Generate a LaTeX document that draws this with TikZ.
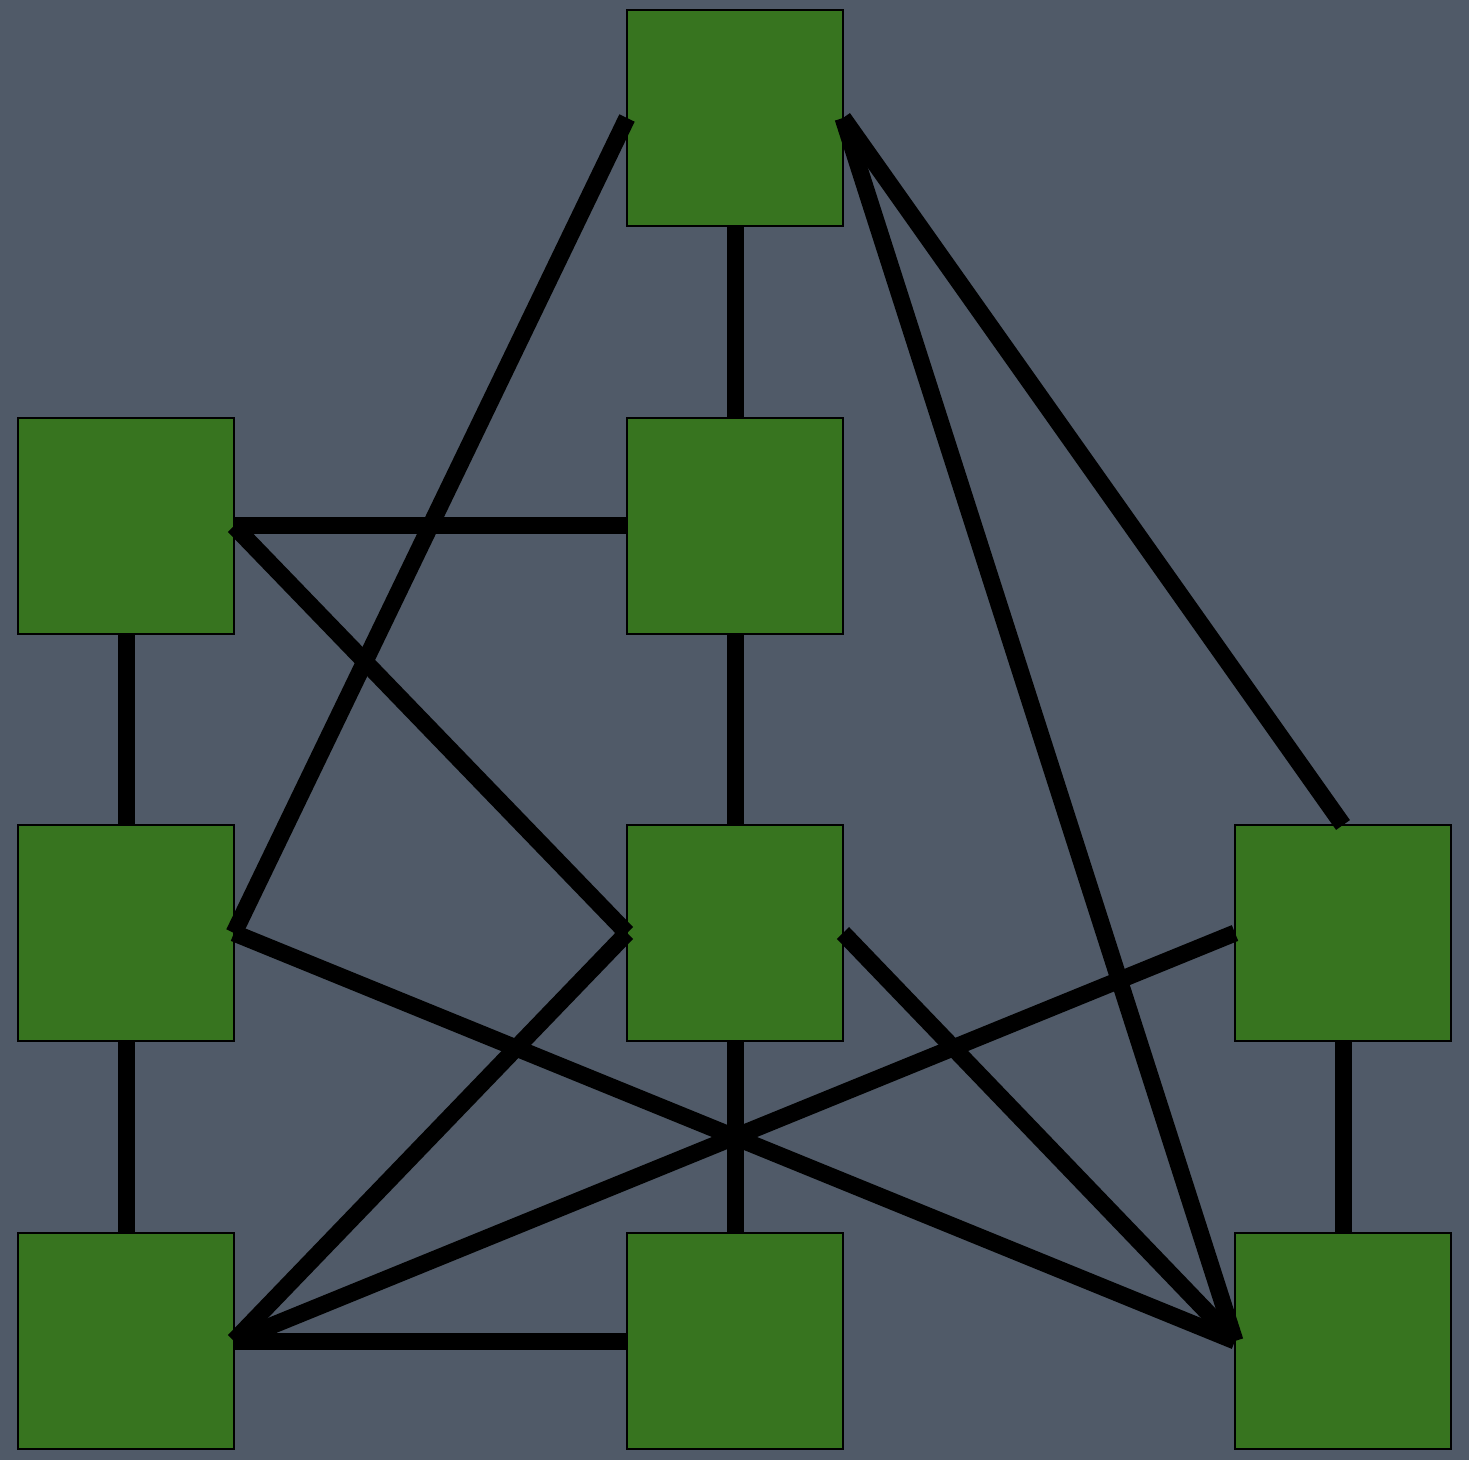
\documentclass[tikz,border=0pt]{standalone}
\definecolor{bg}{HTML}{505A68}
\definecolor{box}{HTML}{37741F}
\begin{document}
\begin{tikzpicture}[x=0.5pt,y=-0.5pt,
  sq/.style={draw=black,line width=0.8pt,fill=box,minimum width=108pt,minimum height=108pt,inner sep=0pt,outer sep=0pt},
  edge/.style={line width=8.5pt,black}]
\fill[bg] (0,0) rectangle (1469,1460);
\useasboundingbox (0,0) rectangle (1469,1460);
\node[sq] (t)  at (735,118) {};
\node[sq] (l2) at (126,526) {};
\node[sq] (m2) at (735,526) {};
\node[sq] (l3) at (126,933) {};
\node[sq] (m3) at (735,933) {};
\node[sq] (r3) at (1343,933) {};
\node[sq] (l4) at (126,1341) {};
\node[sq] (m4) at (735,1341) {};
\node[sq] (r4) at (1343,1341) {};
\draw[edge] (t.south) -- (m2.north);
\draw[edge] (t.west) -- (l3.east);
\draw[edge] (t.east) -- (r4.west);
\draw[edge] (t.east) -- (r3.north);
\draw[edge] (l2.east) -- (m2.west);
\draw[edge] (l2.east) -- (m3.west);
\draw[edge] (l2.south) -- (l3.north);
\draw[edge] (m2.south) -- (m3.north);
\draw[edge] (l3.south) -- (l4.north);
\draw[edge] (l3.east) -- (r4.west);
\draw[edge] (m3.west) -- (l4.east);
\draw[edge] (m3.east) -- (r4.west);
\draw[edge] (m3.south) -- (m4.north);
\draw[edge] (r3.west) -- (l4.east);
\draw[edge] (l4.east) -- (m4.west);
\draw[edge] (r3.south) -- (r4.north);
\end{tikzpicture}
\end{document}
